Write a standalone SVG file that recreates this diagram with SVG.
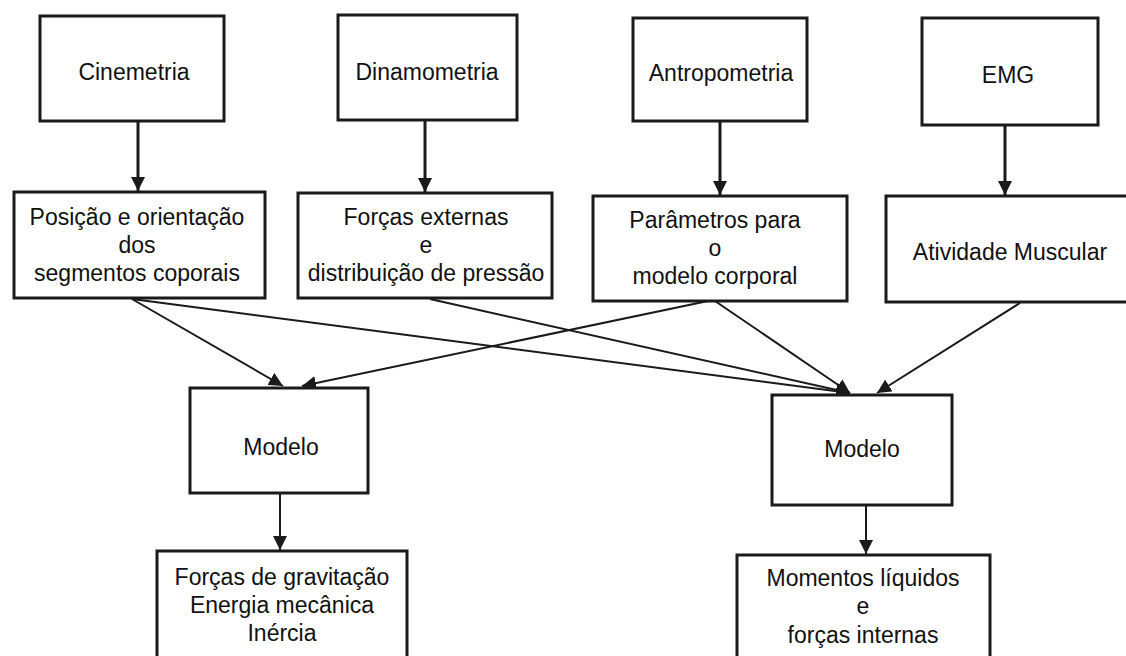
<svg xmlns="http://www.w3.org/2000/svg" width="1126" height="656" viewBox="0 0 1126 656">
<style>
  .box { fill: #ffffff; stroke: #1a1a1a; stroke-width: 3; }
  .t { font-family: "Liberation Sans", Arial, sans-serif; font-size: 23px; fill: #111111; text-anchor: middle; }
  .c { stroke: #1a1a1a; stroke-width: 2; fill: none; marker-end: url(#ah); }
  .cv { stroke: #1a1a1a; stroke-width: 3; fill: none; marker-end: url(#ah); }
</style>
<defs>
  <marker id="ah" markerUnits="userSpaceOnUse" markerWidth="14" markerHeight="14" viewBox="0 0 10 10" refX="10" refY="5" orient="auto">
    <path d="M0,0 L10,5 L0,10 z" fill="#1a1a1a"/>
  </marker>
</defs>
<rect width="1126" height="656" fill="#ffffff"/>
<g id="connectors">
  <line class="cv" x1="138" y1="122" x2="138" y2="191"/>
  <line class="cv" x1="425" y1="121" x2="425" y2="192"/>
  <line class="cv" x1="720" y1="122" x2="720" y2="195"/>
  <line class="cv" x1="1005" y1="126" x2="1005" y2="195"/>
  <line class="c" x1="132" y1="299" x2="283" y2="386"/>
  <line class="c" x1="132" y1="299" x2="850" y2="393"/>
  <line class="c" x1="430" y1="299" x2="850" y2="393"/>
  <line class="c" x1="708" y1="301" x2="302" y2="386"/>
  <line class="c" x1="715" y1="301" x2="850" y2="393"/>
  <line class="c" x1="1020" y1="303" x2="877" y2="393"/>
  <line class="c" x1="280" y1="494" x2="280" y2="550"/>
  <line class="c" x1="866" y1="506" x2="866" y2="554"/>
</g>
<g id="cinemetria">
  <rect class="box" x="40" y="16" width="184" height="105"/>
  <text class="t" x="134" y="80">Cinemetria</text>
</g>
<g id="dinamometria">
  <rect class="box" x="338" y="15" width="179" height="105"/>
  <text class="t" x="427" y="80">Dinamometria</text>
</g>
<g id="antropometria">
  <rect class="box" x="633" y="18" width="174" height="103"/>
  <text class="t" x="721" y="81">Antropometria</text>
</g>
<g id="emg">
  <rect class="box" x="922" y="18" width="176" height="107"/>
  <text class="t" x="1008" y="83">EMG</text>
</g>
<g id="posicao">
  <rect class="box" x="14" y="192" width="251" height="106"/>
  <text class="t" x="137" y="225">Posição e orientação</text>
  <text class="t" x="137" y="253">dos</text>
  <text class="t" x="137" y="281">segmentos coporais</text>
</g>
<g id="forcas-externas">
  <rect class="box" x="298" y="193" width="254" height="105"/>
  <text class="t" x="426" y="225">Forças externas</text>
  <text class="t" x="426" y="253">e</text>
  <text class="t" x="426" y="281">distribuição de pressão</text>
</g>
<g id="parametros">
  <rect class="box" x="593" y="196" width="254" height="105"/>
  <text class="t" x="715" y="228">Parâmetros para</text>
  <text class="t" x="715" y="256">o</text>
  <text class="t" x="715" y="284">modelo corporal</text>
</g>
<g id="atividade">
  <rect class="box" x="886" y="196" width="250" height="106"/>
  <text class="t" x="1010" y="260">Atividade Muscular</text>
</g>
<g id="modelo-esq">
  <rect class="box" x="190" y="388" width="178" height="105"/>
  <text class="t" x="281" y="455">Modelo</text>
</g>
<g id="modelo-dir">
  <rect class="box" x="772" y="395" width="180" height="110"/>
  <text class="t" x="862" y="457">Modelo</text>
</g>
<g id="resultado-esq">
  <rect class="box" x="157" y="551" width="250" height="115"/>
  <text class="t" x="282" y="585">Forças de gravitação</text>
  <text class="t" x="282" y="613">Energia mecânica</text>
  <text class="t" x="282" y="641">Inércia</text>
</g>
<g id="resultado-dir">
  <rect class="box" x="737" y="555" width="253" height="111"/>
  <text class="t" x="863" y="586">Momentos líquidos</text>
  <text class="t" x="863" y="614">e</text>
  <text class="t" x="863" y="643">forças internas</text>
</g>
</svg>
